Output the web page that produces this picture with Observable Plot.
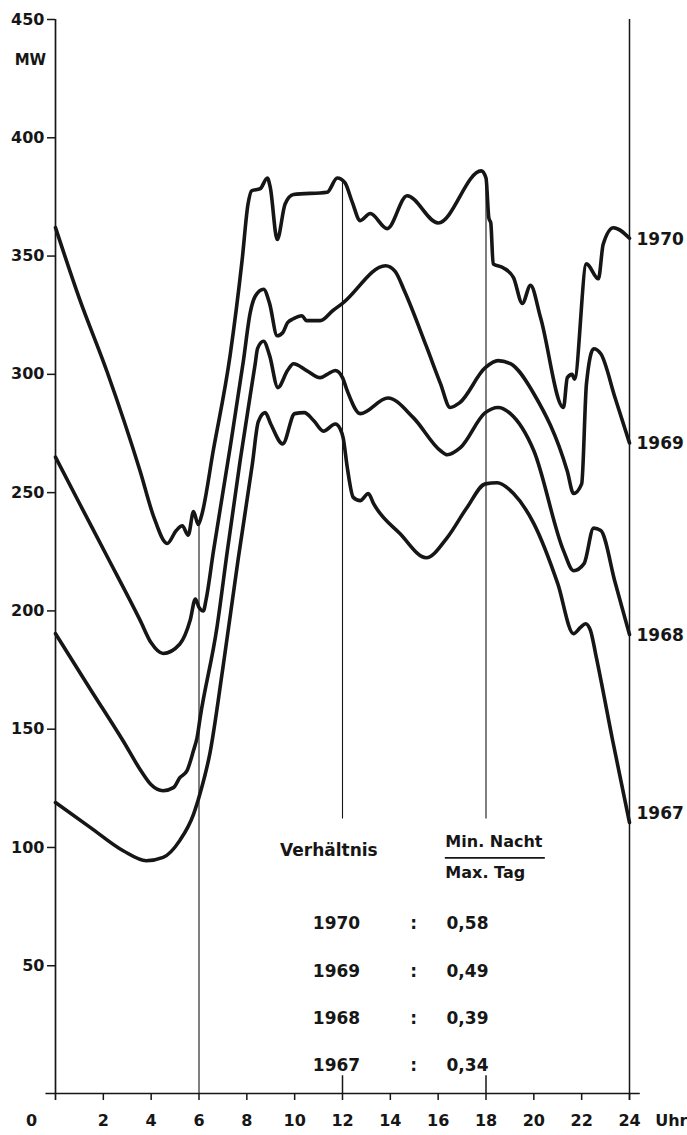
<!DOCTYPE html>
<html><head><meta charset="utf-8">
<script src="https://cdn.jsdelivr.net/npm/d3@7"></script>
<script src="https://cdn.jsdelivr.net/npm/@observablehq/plot@0.6"></script>
<style>
html,body{margin:0;padding:0;background:#fff;}
#chart svg{display:block;}
</style></head><body><div id="chart"></div>
<script>
// ---- data ----
const years = ["1970", "1969", "1968", "1967"];

const hours1970 = [0, 1.0, 2.16, 3.54, 4.1, 4.67, 5.05, 5.3, 5.55, 5.77, 5.97, 6.1, 6.6, 7.3, 7.8, 8.05, 8.2, 8.56, 8.86, 8.98, 9.27, 9.6, 9.95, 11.36, 11.78, 12.1, 12.4, 12.74, 13.16, 13.87, 14.7, 16.0, 17.8, 18.0, 18.12, 18.2, 18.3, 18.73, 19.15, 19.52, 19.86, 20.28, 21.24, 21.4, 21.6, 21.7, 22.2, 22.7, 22.9, 23.33, 24];
const mw1970 = [362, 332, 301, 259, 240, 228.5, 234, 236, 232, 242, 236.5, 240, 268, 308, 348, 372, 377.6, 378.5, 383, 379, 357, 372, 376, 377, 383, 381, 373, 365, 368, 361.6, 375.5, 364, 386, 383, 366, 364, 346.7, 345, 340.9, 330, 337.6, 324, 286, 298.6, 300, 298, 346.7, 340.4, 355, 362, 357.5];

const hours1969 = [0, 1.0, 2.16, 3.54, 4.0, 4.5, 5.2, 5.63, 5.85, 6.0, 6.18, 6.3, 6.6, 7.3, 7.86, 8.14, 8.35, 8.7, 8.95, 9.27, 9.5, 9.7, 9.95, 10.3, 10.5, 11.07, 11.6, 12.0, 13.8, 14.2, 14.6, 15.5, 16.1, 16.5, 16.9, 17.97, 18.5, 19.02, 20.0, 21.4, 21.66, 22.0, 22.2, 22.5, 22.8, 23.4, 24];
const mw1969 = [265, 245.5, 223, 196, 186.5, 182, 186, 196, 205, 201.5, 200, 205, 225, 269, 306, 326, 333, 336, 330, 316.3, 317.6, 321.8, 323.5, 324.8, 322.7, 322.7, 327, 330, 345.9, 343.5, 335, 312, 296, 286, 288, 302.8, 305.8, 304.5, 291.8, 259, 249.6, 253.7, 296, 310.8, 308.7, 290, 271];

const hours1968 = [0, 1.45, 2.83, 3.6, 4.0, 4.5, 4.93, 5.2, 5.5, 5.77, 5.92, 6.05, 6.75, 7.18, 7.72, 8.35, 8.45, 8.7, 8.95, 9.3, 9.7, 9.95, 10.5, 11.07, 11.36, 11.7, 12.0, 12.2, 12.74, 13.9, 14.96, 16.1, 16.38, 16.93, 17.97, 18.5, 19.02, 20.0, 21.24, 21.66, 22.1, 22.5, 22.8, 23.4, 24];
const mw1968 = [190.4, 167, 145, 132, 126.5, 124, 125.3, 129.5, 132.5, 141, 146.5, 155, 193, 225, 263.5, 304.5, 311, 314, 308, 294.4, 301.6, 304.5, 301.6, 298.6, 300, 301.6, 298.6, 293, 283.4, 290, 281.7, 267.7, 266, 269, 283.8, 286, 283.4, 267.7, 225.5, 217, 220, 235, 234, 212, 190];

const hours1967 = [0, 1.45, 2.83, 3.8, 4.5, 5.2, 5.77, 6.05, 6.46, 7.0, 7.64, 8.23, 8.48, 8.77, 9.0, 9.5, 10.0, 10.4, 10.8, 11.2, 11.7, 11.9, 12.03, 12.2, 12.45, 12.74, 13.08, 13.3, 14.4, 15.5, 16.38, 17.2, 17.97, 18.47, 19.15, 20.0, 21.0, 21.66, 21.95, 22.16, 22.37, 22.6, 23.3, 24];
const mw1967 = [119, 108.5, 98.6, 94.4, 95.8, 103, 114, 123, 140, 176, 222, 262, 280, 283.8, 279, 270.6, 283.4, 283.8, 280.4, 276, 279, 277, 273, 260.6, 248, 246.6, 249.6, 245.3, 232.7, 222.5, 231, 243.6, 253.7, 254.2, 249.6, 236.9, 211.5, 190.4, 193, 194.6, 191.7, 181, 145, 110.5];

const ratios = ["0,58", "0,49", "0,39", "0,34"];
const xTicks = [2, 4, 6, 8, 10, 12, 14, 16, 18, 20, 22, 24];
const yTicks = [50, 100, 150, 200, 250, 300, 350, 400, 450];
const yLabel = "MW";
const xLabel = "Uhr";

// ---- build tables ----
const series = [
  [years[0], hours1970, mw1970],
  [years[1], hours1969, mw1969],
  [years[2], hours1968, mw1968],
  [years[3], hours1967, mw1967]
];
const points = series.flatMap(([year, hs, vs]) => hs.map((h, i) => ({year, h, v: vs[i]})));
const ends = series.map(([year, hs, vs]) => ({year, h: hs[hs.length - 1], v: vs[vs.length - 1]}));
const tableRows = years.map((year, i) => ({year, ratio: ratios[i], row: i}));

const ink = "#161616";
const font = "'DejaVu Sans', sans-serif";

const chart = Plot.plot({
  width: 687,
  height: 1135,
  marginLeft: 55,
  marginRight: 58,
  marginTop: 19,
  marginBottom: 42,
  x: {domain: [0, 24]},
  y: {domain: [-4, 450]},
  style: {fontFamily: font, fontWeight: "bold", color: ink, background: "#fff", overflow: "visible"},
  marks: [
    // axis lines
    Plot.ruleX([0], {y1: -7, y2: 450, stroke: ink, strokeWidth: 1.7}),
    Plot.ruleY([-4], {x1: -0.4, x2: 24.45, stroke: ink, strokeWidth: 1.7}),
    // vertical guide lines
    Plot.ruleX([6], {y1: -4, y2: 238, stroke: ink, strokeWidth: 1.1}),
    Plot.ruleX([12, 18], {y1: 112, y2: 382, stroke: ink, strokeWidth: 1.1}),
    Plot.ruleX([12, 18], {y1: -4, y2: 3.5, stroke: ink, strokeWidth: 1.5}),
    Plot.ruleX([24], {y1: -7, y2: 450, stroke: ink, strokeWidth: 1.5}),
    // axes
    Plot.axisY({ticks: yTicks, tickSize: 8, tickPadding: 3, fontSize: 16, fontWeight: "bold", strokeWidth: 1.5, label: null}),
    Plot.axisX({ticks: xTicks, tickSize: 7, tickPadding: 14, fontSize: 16, fontWeight: "bold", strokeWidth: 1.5, label: null}),
    Plot.text(["0"], {x: -1.0, y: -4, dy: 27, text: d => d, fontSize: 16, fontWeight: "bold", fill: ink}),
    Plot.text([xLabel], {x: 25.75, y: -4, dy: 27, text: d => d, fontSize: 16, fontWeight: "bold", fill: ink}),
    Plot.text([yLabel], {x: -1.05, y: 433, text: d => d, fontSize: 15, fontWeight: "bold", fill: ink}),
    // curves
    Plot.line(points, {x: "h", y: "v", z: "year", curve: "monotone-x", stroke: ink, strokeWidth: 3.6, strokeLinejoin: "round", strokeLinecap: "round"}),
    // end labels
    Plot.text(ends.filter(d => d.year !== "1967"), {x: "h", y: "v", text: "year", dx: 7, dy: 1, textAnchor: "start", fontSize: 17, fontWeight: "bold", fill: ink}),
    Plot.text(ends.filter(d => d.year === "1967"), {x: "h", y: "v", text: "year", dx: 7, dy: -9, textAnchor: "start", fontSize: 17, fontWeight: "bold", fill: ink}),
    // ratio table
    Plot.text(["Verhältnis"], {x: 11.43, y: 98.7, text: d => d, fontSize: 17, fontWeight: "bold", fill: ink}),
    Plot.text(["Min. Nacht"], {x: 16.3, y: 102.5, text: d => d, textAnchor: "start", fontSize: 16, fontWeight: "bold", fill: ink}),
    Plot.ruleY([95.6], {x1: 16.3, x2: 20.48, stroke: ink, strokeWidth: 1.8}),
    Plot.text(["Max. Tag"], {x: 16.3, y: 89.4, text: d => d, textAnchor: "start", fontSize: 16, fontWeight: "bold", fill: ink}),
    Plot.text(tableRows, {x: 11.75, y: d => 67.7 - 20 * d.row, text: "year", fontSize: 17, fontWeight: "bold", fill: ink}),
    Plot.text(tableRows, {x: 14.97, y: d => 67.7 - 20 * d.row, text: () => ":", fontSize: 17, fontWeight: "bold", fill: ink}),
    Plot.text(tableRows, {x: 16.35, y: d => 67.7 - 20 * d.row, text: "ratio", textAnchor: "start", fontSize: 17, fontWeight: "bold", fill: ink})
  ]
});
document.getElementById("chart").appendChild(chart);
</script>
</body></html>
